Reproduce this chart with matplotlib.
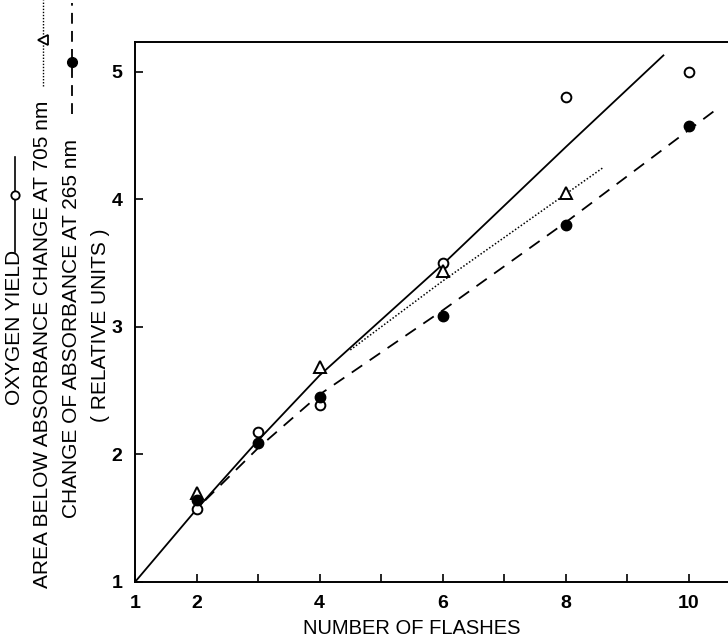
import matplotlib
matplotlib.use('Agg')
import matplotlib.pyplot as plt
from matplotlib.lines import Line2D

plt.rcParams['font.family'] = ['Liberation Sans Narrow', 'Liberation Sans', 'DejaVu Sans']

# measured points
flashes_o2 = [2, 3, 4, 6, 8, 10]
oxygen_yield = [1.57, 2.18, 2.39, 3.50, 4.80, 5.00]
flashes_705 = [2, 4, 6, 8]
area_705 = [1.70, 2.69, 3.44, 4.05]
flashes_265 = [2, 3, 4, 6, 8, 10]
change_265 = [1.64, 2.09, 2.45, 3.09, 3.80, 4.58]

# hand drawn curves through the points
fit_o2_x = [1, 2, 3, 4, 6, 8, 9.59]
fit_o2_y = [1.0, 1.57, 2.11, 2.62, 3.49, 4.41, 5.13]
fit_705_x = [4.5, 6, 8.61]
fit_705_y = [2.82, 3.36, 4.25]
fit_265_x = [2.14, 3, 4, 6, 8, 10.46]
fit_265_y = [1.64, 2.05, 2.47, 3.13, 3.82, 4.71]

x_ticks = [1, 2, 3, 4, 5, 6, 7, 8, 9, 10]
x_tick_labels = ['1', '2', '', '4', '', '6', '', '8', '', '10']
y_ticks = [1, 2, 3, 4, 5]

W, H = 728, 642
def fx(px):
    return px / W
def fy(py):
    return 1 - py / H

fig = plt.figure(figsize=(7.28, 6.42), dpi=100)
ax = fig.add_axes([fx(135), fy(582), 1 - fx(135), (582 - 42) / H])

ax.plot(fit_o2_x, fit_o2_y, color='black', lw=1.3)
ax.plot(fit_705_x, fit_705_y, color='black', lw=1.1, linestyle=(0, (1, 1.3)))
ax.plot(fit_265_x, fit_265_y, color='black', lw=1.3, linestyle=(0, (7, 5)))
ax.plot(flashes_o2, oxygen_yield, 'o', mfc='white', mec='black', mew=1.4, ms=7)
ax.plot(flashes_705, area_705, '^', mfc='white', mec='black', mew=1.4, ms=8)
ax.plot(flashes_265, change_265, 'o', color='black', ms=7.5)

ax.set_xlim(1, 10.64)
ax.set_ylim(1, 5.235)
ax.set_xticks(x_ticks)
ax.set_xticklabels(x_tick_labels)
ax.set_yticks(y_ticks)
ax.tick_params(direction='in', length=6, width=1.2, labelsize=14)
ax.tick_params(axis='x', pad=9)
ax.tick_params(axis='y', pad=9)
for lab in ax.get_xticklabels() + ax.get_yticklabels():
    lab.set_fontweight('bold')
ax.spines['right'].set_visible(False)
for s in ['left', 'bottom', 'top']:
    ax.spines[s].set_linewidth(1.4)

fig.text(fx(412), fy(628), 'NUMBER OF FLASHES', ha='center', va='center', fontsize=14.5)

# y label lines with their legend keys
fig.text(fx(15), fy(405), 'OXYGEN YIELD', rotation=90, ha='center', va='bottom', fontsize=15)
fig.add_artist(Line2D([fx(15), fx(15)], [fy(252), fy(157)], color='black', lw=1.2))
fig.add_artist(Line2D([fx(15)], [fy(195)], marker='o', ms=6, mfc='white', mec='black', mew=1.3))

fig.text(fx(43), fy(588), 'AREA BELOW ABSORBANCE CHANGE AT 705 nm', rotation=90,
         ha='center', va='bottom', fontsize=15)
fig.add_artist(Line2D([fx(43), fx(43)], [fy(86), fy(0)], color='black', lw=1.0,
                      linestyle=(0, (1, 1.2))))
fig.add_artist(Line2D([fx(43)], [fy(40)], marker='<', ms=7, mfc='white', mec='black', mew=1.3))

fig.text(fx(72), fy(518), 'CHANGE OF ABSORBANCE AT 265 nm', rotation=90,
         ha='center', va='bottom', fontsize=15)
fig.add_artist(Line2D([fx(72), fx(72)], [fy(114), fy(3)], color='black', lw=1.3,
                      linestyle=(0, (6, 4))))
fig.add_artist(Line2D([fx(72)], [fy(62)], marker='o', ms=7, color='black'))

fig.text(fx(100), fy(325), '( RELATIVE UNITS )', rotation=90, ha='center', va='center', fontsize=15)

fig.savefig('out.png', dpi=100)
